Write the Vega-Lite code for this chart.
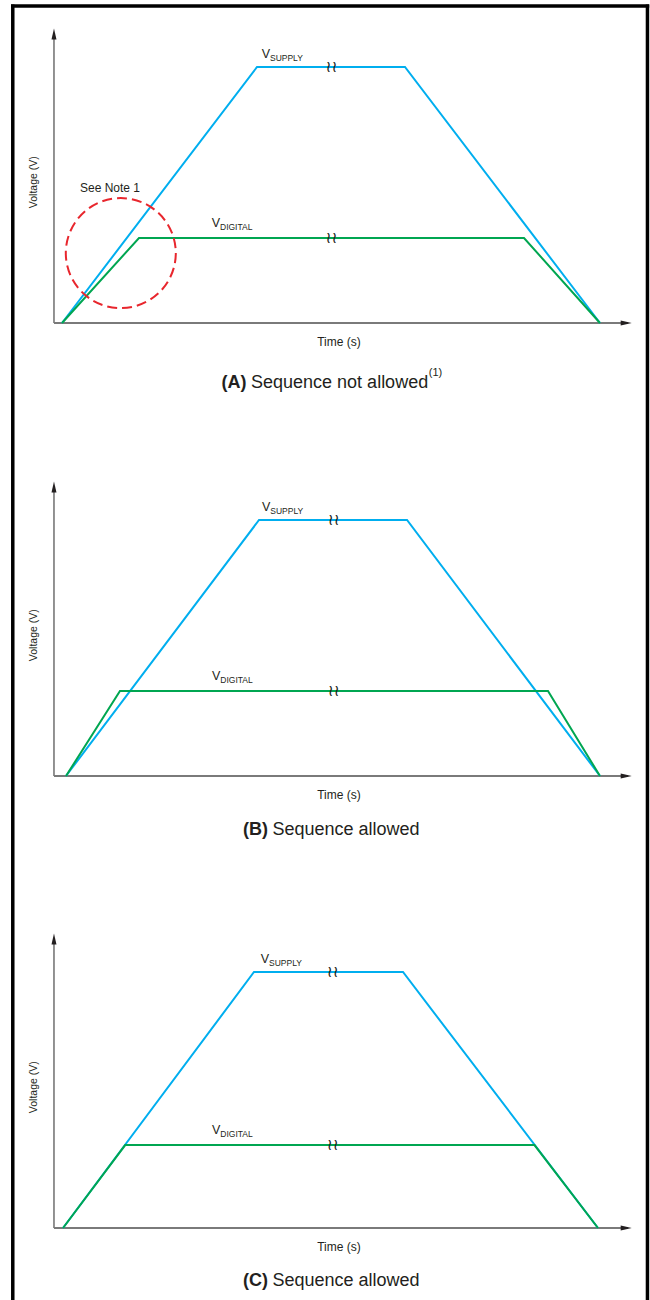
{
  "$schema": "https://vega.github.io/schema/vega-lite/v6.json",
  "padding": 0,
  "background": "white",
  "spacing": 0,
  "bounds": "flush",
  "config": {
    "view": {"stroke": null},
    "text": {"font": "Liberation Sans", "fill": "#231f20"}
  },
  "resolve": {"scale": {"x": "independent", "y": "independent"}},
  "datasets": {
    "rows": [
      {"p":"A","k":"frame","t":-7.48,"t2":-7.48,"v":-5.039,"v2":12.44},
      {"p":"A","k":"frame","t":107.74,"t2":107.74,"v":-5.039,"v2":12.44},
      {"p":"A","k":"frame","t":-7.8,"t2":108.06,"v":12.38,"v2":12.38},
      {"p":"A","k":"yaxis","t":0,"t2":0,"v":0,"v2":11.2},
      {"p":"A","k":"xaxis","t":0,"t2":104.2,"v":0,"v2":0},
      {"p":"A","k":"arrowup","t":0,"v":11.5},
      {"p":"A","k":"arrowright","t":104.88,"v":0},
      {"p":"A","k":"line","s":"supply","o":1,"t":1.46,"v":0},
      {"p":"A","k":"line","s":"supply","o":2,"t":36.86,"v":10},
      {"p":"A","k":"line","s":"supply","o":3,"t":63.72,"v":10},
      {"p":"A","k":"line","s":"supply","o":4,"t":99.12,"v":0},
      {"p":"A","k":"line","s":"digital","o":1,"t":1.46,"v":0},
      {"p":"A","k":"line","s":"digital","o":2,"t":15.43,"v":3.32},
      {"p":"A","k":"line","s":"digital","o":3,"t":85.33,"v":3.32},
      {"p":"A","k":"line","s":"digital","o":4,"t":99.12,"v":0},
      {"p":"A","k":"V","txt":"V","t":37.71,"v":10.35},
      {"p":"A","k":"sub","txt":"SUPPLY","t":39.21,"v":10.25},
      {"p":"A","k":"V","txt":"V","t":28.63,"v":3.74},
      {"p":"A","k":"sub","txt":"DIGITAL","t":30.14,"v":3.64},
      {"p":"A","k":"brk","txt":"≀≀","t":50.4,"v":10},
      {"p":"A","k":"brk","txt":"≀≀","t":50.4,"v":3.32},
      {"p":"A","k":"time","txt":"Time (s)","t":51.74,"v":-0.88},
      {"p":"A","k":"volt","txt":"Voltage (V)","t":-3.54,"v":5.5},
      {"p":"A","k":"bold","txt":"(A)","t":34.95,"v":-2.52},
      {"p":"A","k":"cap","txt":"Sequence not allowed","t":35.77,"v":-2.52},
      {"p":"A","k":"sup","txt":"(1)","t":68.05,"v":-2.07},
      {"p":"A","k":"note","txt":"See Note 1","t":10.17,"v":5.13},
      {"p":"A","k":"circle","t":12.13,"v":2.73},

      {"p":"B","k":"frame","t":-7.48,"t2":-7.48,"v":-5,"v2":12.656},
      {"p":"B","k":"frame","t":107.74,"t2":107.74,"v":-5,"v2":12.656},
      {"p":"B","k":"yaxis","t":0,"t2":0,"v":0,"v2":11.2},
      {"p":"B","k":"xaxis","t":0,"t2":104.2,"v":0,"v2":0},
      {"p":"B","k":"arrowup","t":0,"v":11.5},
      {"p":"B","k":"arrowright","t":104.88,"v":0},
      {"p":"B","k":"line","s":"supply","o":1,"t":2.18,"v":0},
      {"p":"B","k":"line","s":"supply","o":2,"t":37.22,"v":10},
      {"p":"B","k":"line","s":"supply","o":3,"t":64.09,"v":10},
      {"p":"B","k":"line","s":"supply","o":4,"t":99.12,"v":0},
      {"p":"B","k":"line","s":"digital","o":1,"t":2.18,"v":0},
      {"p":"B","k":"line","s":"digital","o":2,"t":11.98,"v":3.32},
      {"p":"B","k":"line","s":"digital","o":3,"t":89.68,"v":3.32},
      {"p":"B","k":"line","s":"digital","o":4,"t":99.12,"v":0},
      {"p":"B","k":"V","txt":"V","t":37.76,"v":10.35},
      {"p":"B","k":"sub","txt":"SUPPLY","t":39.27,"v":10.25},
      {"p":"B","k":"V","txt":"V","t":28.69,"v":3.74},
      {"p":"B","k":"sub","txt":"DIGITAL","t":30.19,"v":3.64},
      {"p":"B","k":"brk","txt":"≀≀","t":50.8,"v":10},
      {"p":"B","k":"brk","txt":"≀≀","t":50.8,"v":3.32},
      {"p":"B","k":"time","txt":"Time (s)","t":51.74,"v":-0.88},
      {"p":"B","k":"volt","txt":"Voltage (V)","t":-3.54,"v":5.5},
      {"p":"B","k":"bold","txt":"(B)","t":38.85,"v":-2.29},
      {"p":"B","k":"cap","txt":"Sequence allowed","t":39.67,"v":-2.29},

      {"p":"C","k":"frame","t":-7.48,"t2":-7.48,"v":-2.8125,"v2":12.656},
      {"p":"C","k":"frame","t":107.74,"t2":107.74,"v":-2.8125,"v2":12.656},
      {"p":"C","k":"yaxis","t":0,"t2":0,"v":0,"v2":11.2},
      {"p":"C","k":"xaxis","t":0,"t2":104.2,"v":0,"v2":0},
      {"p":"C","k":"arrowup","t":0,"v":11.5},
      {"p":"C","k":"arrowright","t":104.88,"v":0},
      {"p":"C","k":"line","s":"supply","o":1,"t":1.64,"v":0},
      {"p":"C","k":"line","s":"supply","o":2,"t":36.31,"v":10},
      {"p":"C","k":"line","s":"supply","o":3,"t":63.36,"v":10},
      {"p":"C","k":"line","s":"supply","o":4,"t":98.76,"v":0},
      {"p":"C","k":"line","s":"digital","o":1,"t":1.64,"v":0},
      {"p":"C","k":"line","s":"digital","o":2,"t":12.93,"v":3.24},
      {"p":"C","k":"line","s":"digital","o":3,"t":87.23,"v":3.24},
      {"p":"C","k":"line","s":"digital","o":4,"t":98.76,"v":0},
      {"p":"C","k":"V","txt":"V","t":37.53,"v":10.35},
      {"p":"C","k":"sub","txt":"SUPPLY","t":39.03,"v":10.25},
      {"p":"C","k":"V","txt":"V","t":28.69,"v":3.66},
      {"p":"C","k":"sub","txt":"DIGITAL","t":30.19,"v":3.56},
      {"p":"C","k":"brk","txt":"≀≀","t":50.6,"v":10},
      {"p":"C","k":"brk","txt":"≀≀","t":50.6,"v":3.24},
      {"p":"C","k":"time","txt":"Time (s)","t":51.74,"v":-0.88},
      {"p":"C","k":"volt","txt":"Voltage (V)","t":-3.54,"v":5.5},
      {"p":"C","k":"bold","txt":"(C)","t":38.85,"v":-2.27},
      {"p":"C","k":"cap","txt":"Sequence allowed","t":39.67,"v":-2.27}
    ]
  },
  "data": {"name": "rows"},
  "vconcat": [
    {
      "width": 650, "height": 452,
      "transform": [{"filter": "datum.p == 'A'"}],
      "encoding": {
        "x": {"field": "t", "type": "quantitative", "scale": {"domain": [-9.8, 108.2], "nice": false, "zero": false}, "axis": null},
        "y": {"field": "v", "type": "quantitative", "scale": {"domain": [-5.039, 12.617], "nice": false, "zero": false}, "axis": null}
      },
      "layer": [
        {"transform": [{"filter": "datum.k == 'frame'"}], "mark": {"type": "rule", "color": "#000000", "strokeWidth": 3.5}, "encoding": {"x2": {"field": "t2"}, "y2": {"field": "v2"}}},
        {"transform": [{"filter": "datum.k == 'yaxis'"}], "mark": {"type": "rule", "color": "#3a3a3a", "strokeWidth": 1.1}, "encoding": {"x2": {"field": "t2"}, "y2": {"field": "v2"}}},
        {"transform": [{"filter": "datum.k == 'xaxis'"}], "mark": {"type": "rule", "color": "#7a7a7a", "strokeWidth": 1.8}, "encoding": {"x2": {"field": "t2"}, "y2": {"field": "v2"}}},
        {"transform": [{"filter": "datum.k == 'arrowup'"}], "mark": {"type": "point", "shape": "M0,0L0.5,2.2L-0.5,2.2Z", "size": 100, "filled": true, "color": "#231f20", "opacity": 1}, "encoding": {}},
        {"transform": [{"filter": "datum.k == 'arrowright'"}], "mark": {"type": "point", "shape": "M0,0L-2.2,0.5L-2.2,-0.5Z", "size": 100, "filled": true, "color": "#231f20", "opacity": 1}, "encoding": {}},
        {"transform": [{"filter": "datum.k == 'line' && datum.s == 'supply'"}], "mark": {"type": "line", "strokeWidth": 2, "strokeJoin": "miter"}, "encoding": {"order": {"field": "o"}, "color": {"field": "s", "type": "nominal", "scale": {"domain": ["supply", "digital"], "range": ["#00aeef", "#00a651"]}, "legend": null}}},
        {"transform": [{"filter": "datum.k == 'line' && datum.s == 'digital'"}], "mark": {"type": "line", "strokeWidth": 2, "strokeJoin": "miter"}, "encoding": {"order": {"field": "o"}, "color": {"field": "s", "type": "nominal", "scale": {"domain": ["supply", "digital"], "range": ["#00aeef", "#00a651"]}, "legend": null}}},
        {"transform": [{"filter": "datum.k == 'circle'"}], "mark": {"type": "point", "shape": "circle", "size": 12100, "filled": false, "stroke": "#e8262d", "strokeWidth": 2, "strokeDash": [10, 5], "opacity": 1}, "encoding": {}},
        {"transform": [{"filter": "datum.k == 'brk'"}], "mark": {"type": "text", "font": "DejaVu Sans", "fontSize": 16, "align": "center", "baseline": "middle", "letterSpacing": -5}, "encoding": {"text": {"field": "txt"}}},
        {"transform": [{"filter": "datum.k == 'V'"}], "mark": {"type": "text", "fontSize": 12.5, "align": "left", "baseline": "alphabetic"}, "encoding": {"text": {"field": "txt"}}},
        {"transform": [{"filter": "datum.k == 'sub'"}], "mark": {"type": "text", "fontSize": 8.5, "align": "left", "baseline": "alphabetic"}, "encoding": {"text": {"field": "txt"}}},
        {"transform": [{"filter": "datum.k == 'note'"}], "mark": {"type": "text", "fontSize": 12, "align": "center", "baseline": "alphabetic"}, "encoding": {"text": {"field": "txt"}}},
        {"transform": [{"filter": "datum.k == 'time'"}], "mark": {"type": "text", "fontSize": 12, "align": "center", "baseline": "alphabetic"}, "encoding": {"text": {"field": "txt"}}},
        {"transform": [{"filter": "datum.k == 'volt'"}], "mark": {"type": "text", "fontSize": 10.5, "angle": 270, "align": "center", "baseline": "middle"}, "encoding": {"text": {"field": "txt"}}},
        {"transform": [{"filter": "datum.k == 'bold'"}], "mark": {"type": "text", "fontSize": 18, "fontWeight": "bold", "align": "right", "baseline": "alphabetic"}, "encoding": {"text": {"field": "txt"}}},
        {"transform": [{"filter": "datum.k == 'cap'"}], "mark": {"type": "text", "fontSize": 18, "align": "left", "baseline": "alphabetic"}, "encoding": {"text": {"field": "txt"}}},
        {"transform": [{"filter": "datum.k == 'sup'"}], "mark": {"type": "text", "fontSize": 11, "align": "left", "baseline": "alphabetic"}, "encoding": {"text": {"field": "txt"}}}
      ]
    },
    {
      "width": 650, "height": 452,
      "transform": [{"filter": "datum.p == 'B'"}],
      "encoding": {
        "x": {"field": "t", "type": "quantitative", "scale": {"domain": [-9.8, 108.2], "nice": false, "zero": false}, "axis": null},
        "y": {"field": "v", "type": "quantitative", "scale": {"domain": [-5, 12.656], "nice": false, "zero": false}, "axis": null}
      },
      "layer": [
        {"transform": [{"filter": "datum.k == 'frame'"}], "mark": {"type": "rule", "color": "#000000", "strokeWidth": 3.5}, "encoding": {"x2": {"field": "t2"}, "y2": {"field": "v2"}}},
        {"transform": [{"filter": "datum.k == 'yaxis'"}], "mark": {"type": "rule", "color": "#3a3a3a", "strokeWidth": 1.1}, "encoding": {"x2": {"field": "t2"}, "y2": {"field": "v2"}}},
        {"transform": [{"filter": "datum.k == 'xaxis'"}], "mark": {"type": "rule", "color": "#7a7a7a", "strokeWidth": 1.8}, "encoding": {"x2": {"field": "t2"}, "y2": {"field": "v2"}}},
        {"transform": [{"filter": "datum.k == 'arrowup'"}], "mark": {"type": "point", "shape": "M0,0L0.5,2.2L-0.5,2.2Z", "size": 100, "filled": true, "color": "#231f20", "opacity": 1}, "encoding": {}},
        {"transform": [{"filter": "datum.k == 'arrowright'"}], "mark": {"type": "point", "shape": "M0,0L-2.2,0.5L-2.2,-0.5Z", "size": 100, "filled": true, "color": "#231f20", "opacity": 1}, "encoding": {}},
        {"transform": [{"filter": "datum.k == 'line' && datum.s == 'supply'"}], "mark": {"type": "line", "strokeWidth": 2, "strokeJoin": "miter"}, "encoding": {"order": {"field": "o"}, "color": {"field": "s", "type": "nominal", "scale": {"domain": ["supply", "digital"], "range": ["#00aeef", "#00a651"]}, "legend": null}}},
        {"transform": [{"filter": "datum.k == 'line' && datum.s == 'digital'"}], "mark": {"type": "line", "strokeWidth": 2, "strokeJoin": "miter"}, "encoding": {"order": {"field": "o"}, "color": {"field": "s", "type": "nominal", "scale": {"domain": ["supply", "digital"], "range": ["#00aeef", "#00a651"]}, "legend": null}}},
        {"transform": [{"filter": "datum.k == 'brk'"}], "mark": {"type": "text", "font": "DejaVu Sans", "fontSize": 16, "align": "center", "baseline": "middle", "letterSpacing": -5}, "encoding": {"text": {"field": "txt"}}},
        {"transform": [{"filter": "datum.k == 'V'"}], "mark": {"type": "text", "fontSize": 12.5, "align": "left", "baseline": "alphabetic"}, "encoding": {"text": {"field": "txt"}}},
        {"transform": [{"filter": "datum.k == 'sub'"}], "mark": {"type": "text", "fontSize": 8.5, "align": "left", "baseline": "alphabetic"}, "encoding": {"text": {"field": "txt"}}},
        {"transform": [{"filter": "datum.k == 'time'"}], "mark": {"type": "text", "fontSize": 12, "align": "center", "baseline": "alphabetic"}, "encoding": {"text": {"field": "txt"}}},
        {"transform": [{"filter": "datum.k == 'volt'"}], "mark": {"type": "text", "fontSize": 10.5, "angle": 270, "align": "center", "baseline": "middle"}, "encoding": {"text": {"field": "txt"}}},
        {"transform": [{"filter": "datum.k == 'bold'"}], "mark": {"type": "text", "fontSize": 18, "fontWeight": "bold", "align": "right", "baseline": "alphabetic"}, "encoding": {"text": {"field": "txt"}}},
        {"transform": [{"filter": "datum.k == 'cap'"}], "mark": {"type": "text", "fontSize": 18, "align": "left", "baseline": "alphabetic"}, "encoding": {"text": {"field": "txt"}}}
      ]
    },
    {
      "width": 650, "height": 396,
      "transform": [{"filter": "datum.p == 'C'"}],
      "encoding": {
        "x": {"field": "t", "type": "quantitative", "scale": {"domain": [-9.8, 108.2], "nice": false, "zero": false}, "axis": null},
        "y": {"field": "v", "type": "quantitative", "scale": {"domain": [-2.8125, 12.656], "nice": false, "zero": false}, "axis": null}
      },
      "layer": [
        {"transform": [{"filter": "datum.k == 'frame'"}], "mark": {"type": "rule", "color": "#000000", "strokeWidth": 3.5}, "encoding": {"x2": {"field": "t2"}, "y2": {"field": "v2"}}},
        {"transform": [{"filter": "datum.k == 'yaxis'"}], "mark": {"type": "rule", "color": "#3a3a3a", "strokeWidth": 1.1}, "encoding": {"x2": {"field": "t2"}, "y2": {"field": "v2"}}},
        {"transform": [{"filter": "datum.k == 'xaxis'"}], "mark": {"type": "rule", "color": "#7a7a7a", "strokeWidth": 1.8}, "encoding": {"x2": {"field": "t2"}, "y2": {"field": "v2"}}},
        {"transform": [{"filter": "datum.k == 'arrowup'"}], "mark": {"type": "point", "shape": "M0,0L0.5,2.2L-0.5,2.2Z", "size": 100, "filled": true, "color": "#231f20", "opacity": 1}, "encoding": {}},
        {"transform": [{"filter": "datum.k == 'arrowright'"}], "mark": {"type": "point", "shape": "M0,0L-2.2,0.5L-2.2,-0.5Z", "size": 100, "filled": true, "color": "#231f20", "opacity": 1}, "encoding": {}},
        {"transform": [{"filter": "datum.k == 'line' && datum.s == 'supply'"}], "mark": {"type": "line", "strokeWidth": 2, "strokeJoin": "miter"}, "encoding": {"order": {"field": "o"}, "color": {"field": "s", "type": "nominal", "scale": {"domain": ["supply", "digital"], "range": ["#00aeef", "#00a651"]}, "legend": null}}},
        {"transform": [{"filter": "datum.k == 'line' && datum.s == 'digital'"}], "mark": {"type": "line", "strokeWidth": 2, "strokeJoin": "miter"}, "encoding": {"order": {"field": "o"}, "color": {"field": "s", "type": "nominal", "scale": {"domain": ["supply", "digital"], "range": ["#00aeef", "#00a651"]}, "legend": null}}},
        {"transform": [{"filter": "datum.k == 'brk'"}], "mark": {"type": "text", "font": "DejaVu Sans", "fontSize": 16, "align": "center", "baseline": "middle", "letterSpacing": -5}, "encoding": {"text": {"field": "txt"}}},
        {"transform": [{"filter": "datum.k == 'V'"}], "mark": {"type": "text", "fontSize": 12.5, "align": "left", "baseline": "alphabetic"}, "encoding": {"text": {"field": "txt"}}},
        {"transform": [{"filter": "datum.k == 'sub'"}], "mark": {"type": "text", "fontSize": 8.5, "align": "left", "baseline": "alphabetic"}, "encoding": {"text": {"field": "txt"}}},
        {"transform": [{"filter": "datum.k == 'time'"}], "mark": {"type": "text", "fontSize": 12, "align": "center", "baseline": "alphabetic"}, "encoding": {"text": {"field": "txt"}}},
        {"transform": [{"filter": "datum.k == 'volt'"}], "mark": {"type": "text", "fontSize": 10.5, "angle": 270, "align": "center", "baseline": "middle"}, "encoding": {"text": {"field": "txt"}}},
        {"transform": [{"filter": "datum.k == 'bold'"}], "mark": {"type": "text", "fontSize": 18, "fontWeight": "bold", "align": "right", "baseline": "alphabetic"}, "encoding": {"text": {"field": "txt"}}},
        {"transform": [{"filter": "datum.k == 'cap'"}], "mark": {"type": "text", "fontSize": 18, "align": "left", "baseline": "alphabetic"}, "encoding": {"text": {"field": "txt"}}}
      ]
    }
  ]
}
